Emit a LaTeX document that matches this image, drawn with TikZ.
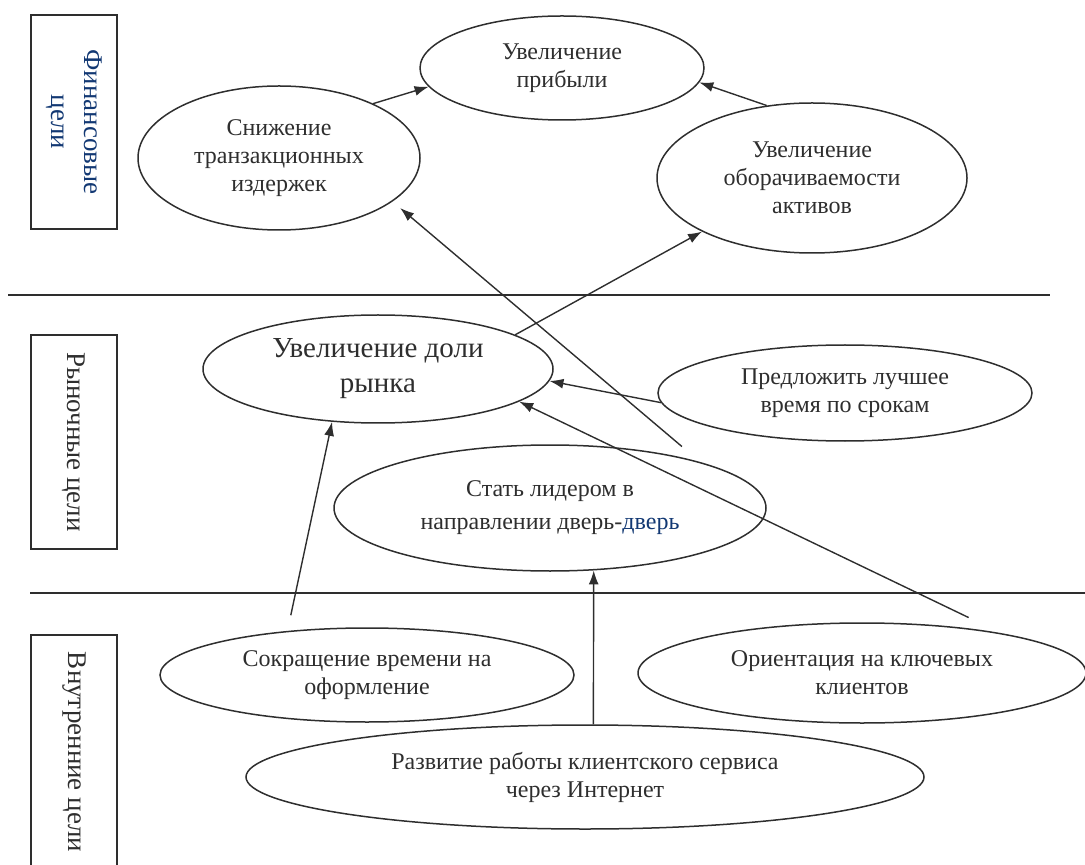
\documentclass[tikz,border=0pt]{standalone}
\usepackage{fontspec}
\setmainfont{Liberation Serif}
\usepackage{tikz}
\definecolor{d00}{rgb}{0.18, 0.18, 0.18}
\definecolor{d01}{rgb}{0.07, 0.22, 0.45}
\usetikzlibrary{positioning}
\usetikzlibrary{shapes, arrows.meta}
\tikzstyle{Line} = [draw, line width=.7pt, d00,
    -{Latex[length=7pt, width=5pt]}]
\tikzstyle{sep} = [draw, line width=.7pt, d00]
\tikzstyle{elpz} = [draw, ellipse, inner sep=0pt, line width=.75pt,
    d00, align=center, font=\fontsize{12}{14}\selectfont]
\tikzstyle{vbox} = [draw, rectangle, rotate=-90, inner sep=0pt,
    minimum width=107pt, minimum height=43pt, line width=.75pt,
    d00, align=center, font=\fontsize{13.5}{16.5}\selectfont]

\begin{document}
\begin{tikzpicture}[x=0.5pt, y=-0.5pt]
     \useasboundingbox (0,0) rectangle (1085,865);
     % ><>< =================== ><>< %
     % ><><     Place nodes     ><>< %
     % ><>< =================== ><>< %
     \node [vbox, text=d01] (lvl00) at (74,122) {Финансовые\\цели};
     \node [vbox] (lvl01) at (74,442) {Рыночные цели};
     \node [vbox, minimum width=117pt] (lvl02) at (74,752)
        {Внутренние цели};
     \path [sep] (8,295) -- (1050,295);
     \path [sep] (30,593) -- (1085,593);
     % ><>< =================== ><>< %
     \node [elpz, minimum width=142pt, minimum height=52pt] (goal00)
        at (562,68) {Увеличение\\прибыли};
     \node [elpz, minimum width=141pt, minimum height=72pt] (goal01)
        at (279,158) {Снижение\\транзакционных\\издержек};
     \node [elpz, minimum width=155pt, minimum height=75pt] (goal02)
        at (812,178) {Увеличение\\оборачиваемости\\активов};
     \node [elpz, minimum width=175pt, minimum height=54pt,
        font=\fontsize{14.5}{17.5}\selectfont] (goal03)
        at (378,369) {Увеличение доли\\рынка};
     \node [elpz, minimum width=187pt, minimum height=48pt] (goal04)
        at (845,393) {Предложить лучшее\\время по срокам};
     \node [elpz, minimum width=216pt, minimum height=63pt,
        font=\fontsize{12}{16.5}\selectfont] (goal05)
        at (550,508) {Стать лидером в\\направлении дверь-{\color{d01}дверь}};
     \node [elpz, minimum width=207pt, minimum height=47pt] (goal06)
        at (367,675) {Сокращение времени на\\оформление};
     \node [elpz, minimum width=224pt, minimum height=50pt] (goal07)
        at (862,673) {Ориентация на ключевых\\клиентов};
     \node [elpz, minimum width=339pt, minimum height=52pt] (goal08)
        at (585,777) {Развитие работы клиентского сервиса\\через Интернет};
     % ><>< =================== ><>< %
     % ><><     Draw lines.     ><>< %
     % ><>< =================== ><>< %
     \path [Line] (goal01.30) -- (goal00.188);
     \path [Line] (goal02.122) -- (goal00.-6);
     \path [Line] (goal03.14) -- (goal02.206);
     \path [Line, shorten <=12pt, shorten >=5pt] (goal05.17) -- (goal01.-21);
     \path [Line] (goal04.183) -- (goal03.-4);
     \path [Line, shorten <=18pt] (goal07.16) -- (goal03.-13);
     \path [Line, shorten <=8pt] (goal06.151) -- (goal03.229);
     \path [Line] (goal08.81) -- (goal05.-55);
  \end{tikzpicture}
\end{document}
